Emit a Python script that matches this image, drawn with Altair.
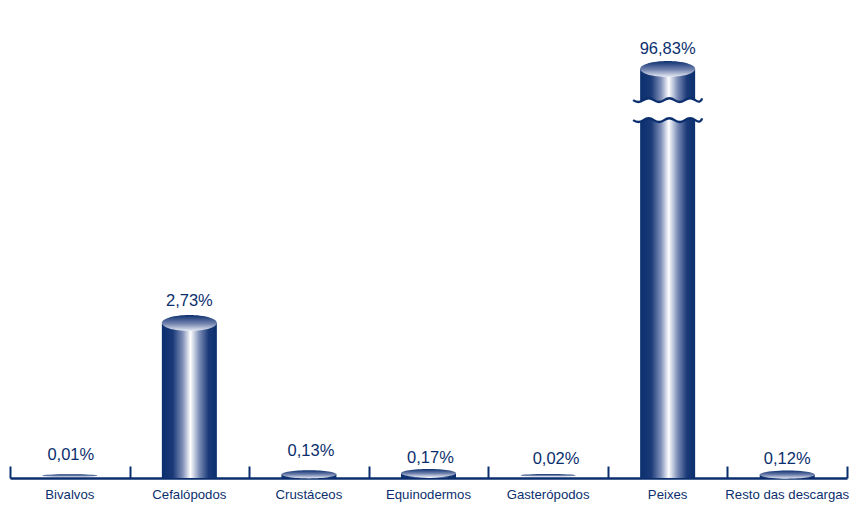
import altair as alt
import pandas as pd

categories = ["Bivalvos", "Cefalópodos", "Crustáceos", "Equinodermos", "Gasterópodos", "Peixes", "Resto das descargas"]
values = [0.01, 2.73, 0.13, 0.17, 0.02, 96.83, 0.12]
labels = ["0,01%", "2,73%", "0,13%", "0,17%", "0,02%", "96,83%", "0,12%"]
label_lift = [-22, -22, -20, -10, -18, -20, -12]
label_shift = [1, 0, 2, 2, 8, 0, 0]
break_value = [81.6]
break_category = ["Peixes"]

NAVY = "#0b2f6e"
df = pd.DataFrame({"cat": categories, "v": values, "label": labels})
df["mid"] = df["v"] / 2
brk = pd.DataFrame({"cat": break_category, "v": break_value})

x_scale = alt.Scale(domain=categories, paddingInner=0, paddingOuter=0)
y_scale = alt.Scale(domain=[0, 2.73, 96.83], range=[440, 285, 31])
X_labelled = alt.X("cat:N", scale=x_scale, sort=None, title=None,
                   axis=alt.Axis(orient="bottom", labelAngle=0, labelFont="Liberation Sans", labelFontSize=13.2,
                                 labelFontWeight="normal", labelColor=NAVY, ticks=False, domain=False,
                                 labelPadding=10, labelOverlap=False, labelLimit=160))
X = alt.X("cat:N", scale=x_scale, sort=None, title=None, axis=None)
Y = alt.Y("v:Q", scale=y_scale, axis=None)
Y_mid = alt.Y("mid:Q", scale=y_scale, axis=None)

body_grad = alt.LinearGradient(gradient="linear", x1=0, x2=1, y1=0, y2=0, stops=[
    alt.GradientStop(offset=0, color="#0b2f6e"),
    alt.GradientStop(offset=0.2, color="#1a3977"),
    alt.GradientStop(offset=0.38, color="#8090b8"),
    alt.GradientStop(offset=0.52, color="#ffffff"),
    alt.GradientStop(offset=0.68, color="#7c8db6"),
    alt.GradientStop(offset=0.85, color="#1a3977"),
    alt.GradientStop(offset=1, color="#0b2f6e"),
])
cap_grad = alt.LinearGradient(gradient="linear", x1=0, x2=0, y1=0, y2=1, stops=[
    alt.GradientStop(offset=0, color="#0b2f6e"),
    alt.GradientStop(offset=0.55, color="#7485b0"),
    alt.GradientStop(offset=1, color="#e8ecf4"),
])


def ellipse(r):
    return f"M-1,0 A1,{r} 0 1 0 1,0 A1,{r} 0 1 0 -1,0 Z"


bars = alt.Chart(df).transform_filter("datum.v > 1").mark_bar(size=55, fill=body_grad).encode(x=X_labelled, y=Y)
stubs = alt.Chart(df).transform_filter("datum.v <= 1 && datum.v >= 0.1").mark_bar(size=55, fill=body_grad).encode(x=X, y=Y_mid)

cap_big = alt.Chart(df).transform_filter("datum.v > 1").mark_point(
    shape=ellipse(0.29), filled=True, fill=cap_grad, size=3025, opacity=1, strokeWidth=0
).encode(x=X, y=Y)
cap_mid = alt.Chart(df).transform_filter("datum.v <= 1 && datum.v >= 0.1").mark_point(
    shape=ellipse(0.15), filled=True, fill=cap_grad, size=3025, opacity=1, strokeWidth=0
).encode(x=X, y=Y_mid)
cap_tiny = alt.Chart(df).transform_filter("datum.v < 0.1").mark_point(
    shape=ellipse(0.05), filled=True, fill=cap_grad, size=3025, opacity=1, strokeWidth=0, yOffset=-2
).encode(x=X, y=Y_mid)

texts = [
    alt.Chart(df).transform_filter(alt.datum.cat == c).mark_text(
        font="Liberation Sans", fontSize=16.5, color=NAVY, baseline="middle", yOffset=d, xOffset=s
    ).encode(x=X, y=Y, text="label:N")
    for c, d, s in zip(categories, label_lift, label_shift)
]

blank = ("M-1,-.29 Q-.85,-.18 -.7,-.29 T-.4,-.29 T-.1,-.29 T.2,-.29 T.5,-.29 T.8,-.29 T1,-.34 "
         "L1,.24 Q.9,.37 .8,.29 T.5,.29 T.2,.29 T-.1,.29 T-.4,.29 T-.7,.29 T-1,.29 Z")
waves = ("M-1,-.29 Q-.85,-.18 -.7,-.29 T-.4,-.29 T-.1,-.29 T.2,-.29 T.5,-.29 T.8,-.29 T1,-.34 "
         "M-1,.29 Q-.85,.4 -.7,.29 T-.4,.29 T-.1,.29 T.2,.29 T.5,.29 T.8,.29 T1,.24")

gap = alt.Chart(brk).mark_point(shape=blank, filled=True, fill="white", size=4761, opacity=1, strokeWidth=0).encode(x=X, y=Y)
wave = alt.Chart(brk).mark_point(shape=waves, filled=False, stroke=NAVY, strokeWidth=2.4, size=4761, opacity=1).encode(x=X, y=Y)

baseline = alt.Chart(df).mark_bar(size=0.001, opacity=0).encode(
    x=alt.X("cat:N", scale=x_scale, sort=None, title=None,
            axis=alt.Axis(orient="top", offset=-440, labels=False, tickBand="extent", tickSize=12,
                          tickWidth=2, tickColor=NAVY, domainColor=NAVY, domainWidth=2.5)),
    y=Y)

chart = alt.layer(bars, stubs, cap_big, cap_mid, cap_tiny, gap, wave, *texts, baseline).resolve_axis(x="independent").properties(
    width=837, height=440,
    padding={"left": 2, "top": 30, "right": 2, "bottom": 40},
    autosize=alt.AutoSizeParams(type="none"),
    background="white",
).configure_view(stroke=None)

chart.save("out.html", embed_options={"renderer": "svg", "actions": False})
